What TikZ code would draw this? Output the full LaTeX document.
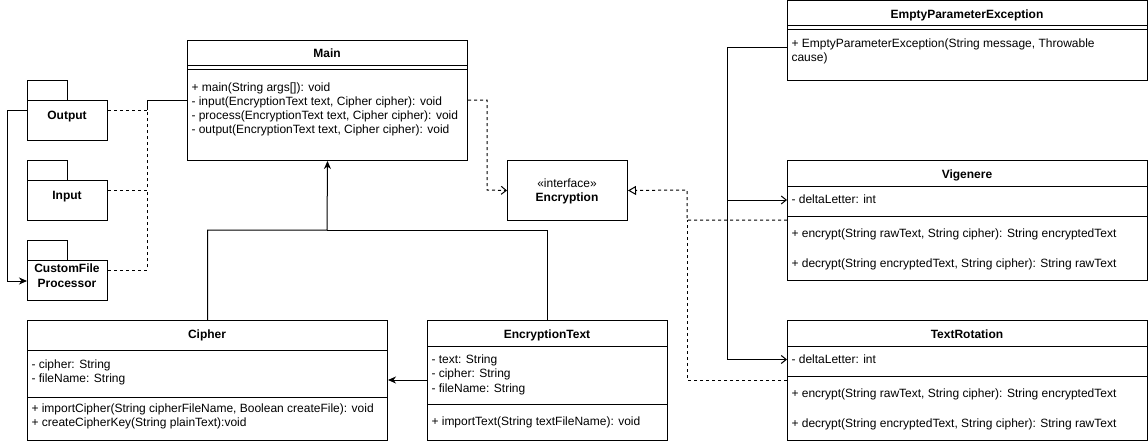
\documentclass[tikz,border=0pt]{standalone}
\usepackage{fontspec}
\setmainfont{Liberation Sans}
\usetikzlibrary{arrows.meta}
\begin{document}
\begin{tikzpicture}[x=1pt,y=-1pt,line width=1pt,
  box/.style={draw,line width=1pt,anchor=north west,inner sep=0pt,fill=white},
  txt/.style={inner sep=0pt,anchor=base west,font=\fontsize{12}{14}\selectfont},
  ttl/.style={inner sep=0pt,anchor=base,font=\fontsize{12}{14}\selectfont\bfseries},
  plain/.style={inner sep=0pt,anchor=base,font=\fontsize{12}{14}\selectfont},
  dsh/.style={dash pattern=on 3pt off 3pt},
  fillarr/.style={-{Stealth[length=8pt,width=7pt,inset=2.5pt]}},
  openarr/.style={-{Straight Barb[length=5pt,width=8pt]}},
  realarr/.style={-{Triangle[open,length=8pt,width=9pt,fill=white]}},
]
\useasboundingbox (0,0) rectangle (1148,444);

% ---------- packages ----------
\node[box,minimum width=40pt,minimum height=20pt] (outtab) at (27,80) {};
\node[box,minimum width=80pt,minimum height=40pt] (outp) at (27,100) {};
\node[ttl] (outl) at (67,119.5) {Output};
\node[box,minimum width=40pt,minimum height=20pt] (intab) at (27,160) {};
\node[box,minimum width=80pt,minimum height=40pt] (inp) at (27,180) {};
\node[ttl] (inl) at (67,199.5) {Input};
\node[box,minimum width=40pt,minimum height=20pt] (cftab) at (27,240) {};
\node[box,minimum width=80pt,minimum height=40pt] (cfp) at (27,260) {};
\node[ttl] (cfl1) at (67,272.5) {CustomFile};
\node[ttl] (cfl2) at (67,287.5) {Processor};

% ---------- Main ----------
\node[box,minimum width=280pt,minimum height=120pt] (main) at (187,40) {};
\draw (main.north west |- 0,66) -- (main.north east |- 0,66);
\draw (main.north west |- 0,70) -- (main.north east |- 0,70);
\node[ttl] (mt) at (327,58) {Main};
\node[txt] (m1) at (191,91) {+ main(String args[]): void};
\node[txt] (m2) at (191,105.2) {- input(EncryptionText text, Cipher cipher): void};
\node[txt] (m3) at (191,119.4) {- process(EncryptionText text, Cipher cipher): void};
\node[txt] (m4) at (191,133.6) {- output(EncryptionText text, Cipher cipher): void};

% ---------- Encryption ----------
\node[box,minimum width=120pt,minimum height=60pt] (enc) at (507,160) {};
\node[plain] (e1) at (567,187) {«interface»};
\node[ttl] (e2) at (567,201.5) {Encryption};

% ---------- EmptyParameterException ----------
\node[box,minimum width=360pt,minimum height=79.5pt] (epe) at (787,0.5) {};
\draw (epe.north west |- 0,26) -- (epe.north east |- 0,26);
\draw (epe.north west |- 0,30) -- (epe.north east |- 0,30);
\node[ttl] (pt) at (967,18.5) {EmptyParameterException};
\node[txt] (p1) at (791,47.5) {+ EmptyParameterException(String message, Throwable};
\node[txt] (p2) at (791,62) {cause)};

% ---------- Vigenere ----------
\node[box,minimum width=360pt,minimum height=120pt] (vig) at (787,160) {};
\draw (vig.north west |- 0,186) -- (vig.north east |- 0,186);
\draw (vig.north west |- 0,216) -- (vig.north east |- 0,216);
\node[ttl] (vt) at (967,178.5) {Vigenere};
\node[txt] (v1) at (791,203.5) {- deltaLetter: int};
\node[txt] (v2) at (791,237.5) {+ encrypt(String rawText, String cipher): String encryptedText};
\node[txt] (v3) at (791,267.5) {+ decrypt(String encryptedText, String cipher): String rawText};

% ---------- TextRotation ----------
\node[box,minimum width=360pt,minimum height=120pt] (tr) at (787,320) {};
\draw (tr.north west |- 0,346) -- (tr.north east |- 0,346);
\draw (tr.north west |- 0,376) -- (tr.north east |- 0,376);
\node[ttl] (rt) at (967,338.5) {TextRotation};
\node[txt] (r1) at (791,363.5) {- deltaLetter: int};
\node[txt] (r2) at (791,397.5) {+ encrypt(String rawText, String cipher): String encryptedText};
\node[txt] (r3) at (791,427.5) {+ decrypt(String encryptedText, String cipher): String rawText};

% ---------- Cipher ----------
\node[box,minimum width=360pt,minimum height=120pt] (cipher) at (27,320) {};
\draw (cipher.north west |- 0,350) -- (cipher.north east |- 0,350);
\draw (cipher.north west |- 0,397) -- (cipher.north east |- 0,397);
\node[ttl] (ct) at (207,338.5) {Cipher};
\node[txt] (c1) at (31,368) {- cipher: String};
\node[txt] (c2) at (31,382) {- fileName: String};
\node[txt] (c3) at (31,412) {+ importCipher(String cipherFileName, Boolean createFile): void};
\node[txt] (c4) at (31,426) {+ createCipherKey(String plainText):void};

% ---------- EncryptionText ----------
\node[box,minimum width=240pt,minimum height=120pt] (et) at (427,320) {};
\draw (et.north west |- 0,346) -- (et.north east |- 0,346);
\draw (et.north west |- 0,404) -- (et.north east |- 0,404);
\node[ttl] (ett) at (547,338.5) {EncryptionText};
\node[txt] (t1) at (431,363) {- text: String};
\node[txt] (t2) at (431,377.5) {- cipher: String};
\node[txt] (t3) at (431,392) {- fileName: String};
\node[txt] (t4) at (431,425) {+ importText(String textFileName): void};

% ---------- connectors ----------
\coordinate (jn) at (147,110);
\draw[dsh] (outp.east |- jn) -- (jn);
\draw (jn) -- (147,100) -- (main.west |- 0,100);
\draw[dsh] (inp.east |- 0,190) -- (147,190) -- (jn);
\draw[dsh] (cfp.east |- 0,270) -- (147,270) -- (147,190);
\draw[fillarr] (outp.west |- 0,110) -- (7,110) -- (7,281) -- (cfp.west |- 0,281);

\draw[dsh,openarr] (main.east |- 0,100) -- (487,100) -- (487,190) -- (enc.west);

\coordinate (mj) at (327,230);
\draw[fillarr] (cipher.north) -- (cipher.north |- mj) -- (mj) -- (main.south);
\draw (et.north) -- (et.north |- mj) -- (mj);
\draw[fillarr] (et.west |- 0,380) -- (cipher.east |- 0,380);

\draw[dsh,realarr] (vig.west |- 0,220) -- (687,220) -- (687,190) -- (enc.east);
\draw[dsh] (tr.west |- 0,380) -- (687,380) -- (687,220);

\coordinate (ej) at (727,200);
\draw[openarr] (epe.west |- 0,48) -- (727,48) -- (ej) -- (vig.west |- ej);
\draw[openarr] (ej) -- (727,359.5) -- (tr.west |- 0,359.5);
\end{tikzpicture}
\end{document}
